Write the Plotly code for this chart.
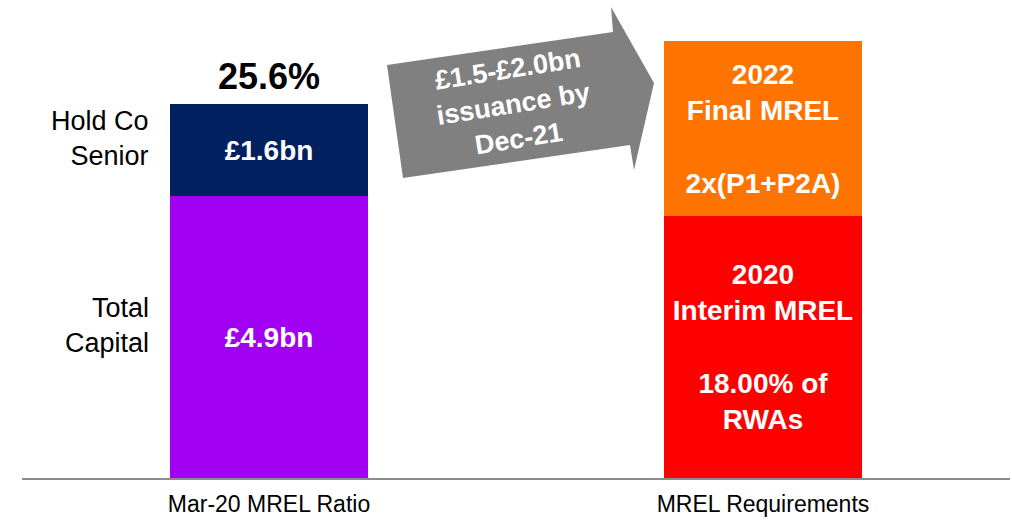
import plotly.graph_objects as go

# Bar categories and stacked segment values (GBP bn)
categories = ["Mar-20 MREL Ratio", "MREL Requirements"]
total_capital = [4.9, None]
hold_co_senior = [1.6, None]
interim_mrel = [None, 4.55]
final_mrel = [None, 3.05]

segment_labels = {
    "Total Capital": "£4.9bn",
    "Hold Co Senior": "£1.6bn",
    "Interim": "2020<br>Interim MREL<br><br>18.00% of<br>RWAs",
    "Final": "2022<br>Final MREL<br><br>2x(P1+P2A)",
}
ratio_label = "25.6%"
issuance_label = "£1.5-£2.0bn<br>issuance by<br>Dec-21"

FONT = "Liberation Sans, Arial, sans-serif"
W, H = 1012, 520
M_L, M_R, M_T, M_B = 22, 2, 18, 42
PW, PH = W - M_L - M_R, H - M_T - M_B


def px_to_paper(px, py):
    return (px - M_L) / PW, (H - M_B - py) / PH


inside_font = dict(family=FONT, size=28, color="white", weight="bold")

fig = go.Figure()


def add_segment(values, color, text):
    fig.add_trace(go.Bar(
        x=categories, y=values, marker=dict(color=color, line=dict(width=0)),
        text=[text if v is not None else "" for v in values],
        textposition="inside", insidetextanchor="middle", textangle=0,
        textfont=inside_font, hoverinfo="skip", showlegend=False,
    ))


add_segment(total_capital, "#A100F2", segment_labels["Total Capital"])
add_segment(hold_co_senior, "#00205F", segment_labels["Hold Co Senior"])
add_segment(interim_mrel, "#FF0000", segment_labels["Interim"])
add_segment(final_mrel, "#FF7300", segment_labels["Final"])

left_total = total_capital[0] + hold_co_senior[0]

# Ratio above the left stack
fig.add_annotation(x=categories[0], y=left_total, xref="x", yref="y",
                   text=f"<b>{ratio_label}</b>", showarrow=False,
                   yanchor="middle", yshift=28,
                   font=dict(family=FONT, size=36, color="black"))

# Segment names to the left of the first bar
for name, y_mid in [("Hold Co<br>Senior", total_capital[0] + hold_co_senior[0] / 2),
                    ("Total<br>Capital", total_capital[0] / 2)]:
    fig.add_annotation(x=categories[0], y=y_mid, xref="x", yref="y",
                       text=name, showarrow=False, xanchor="right", align="right",
                       yanchor="middle", xshift=-118, yshift=12,
                       font=dict(family=FONT, size=27, color="black"))

# Grey issuance arrow between the bars
arrow_px = [(387, 65), (613, 32), (611, 7), (654, 83), (634, 170), (630, 145), (403, 178)]
pts = [px_to_paper(*p) for p in arrow_px]
path = "M " + " L ".join(f"{x:.5f},{y:.5f}" for x, y in pts) + " Z"
fig.add_shape(type="path", path=path, xref="paper", yref="paper",
              fillcolor="#808080", line=dict(width=0), layer="above")

ax, ay = px_to_paper(513, 104)
fig.add_annotation(x=ax, y=ay, xref="paper", yref="paper", text=issuance_label,
                   showarrow=False, textangle=-9, align="center",
                   xanchor="center", yanchor="middle",
                   font=dict(family=FONT, size=27, color="white", weight="bold"))

fig.update_layout(
    width=W, height=H, barmode="stack", bargap=0.6,
    margin=dict(l=M_L, r=M_R, t=M_T, b=M_B, autoexpand=False),
    plot_bgcolor="white", paper_bgcolor="white",
    xaxis=dict(type="category", range=[-0.5, 1.5], showline=True, linecolor="#8C8C8C",
               linewidth=2, ticks="", showgrid=False, ticklabelstandoff=4,
               automargin=False,
               tickfont=dict(family=FONT, size=23, color="black"), fixedrange=True),
    yaxis=dict(range=[0, 8], visible=False, showgrid=False, fixedrange=True,
               automargin=False),
)

fig.write_html("out.html", config={"displayModeBar": False})
